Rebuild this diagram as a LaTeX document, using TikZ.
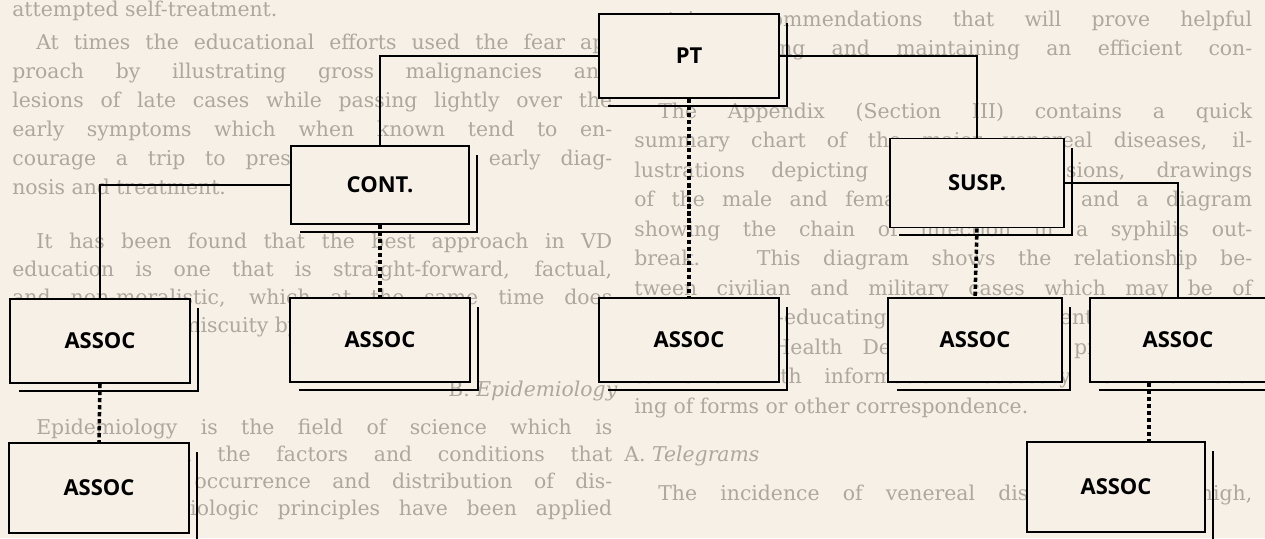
\documentclass[tikz,border=0pt]{standalone}
\usepackage{fontspec}
\setmainfont{DejaVu Serif}
\newfontfamily\labelfont{Open Sans}
\definecolor{paper}{RGB}{246,240,230}
\definecolor{faint}{RGB}{174,167,158}
\tikzset{
  card/.style={draw, line width=1.1pt, fill=paper, inner sep=0pt, minimum width=3.6cm, minimum height=1.68cm, font=\labelfont\bfseries\fontsize{12.5}{14}\selectfont},
  wire/.style={line width=1.1pt},
  dots/.style={line width=2pt, dash pattern=on 2.4pt off 1.6pt},
  page/.style={text=faint, inner sep=0pt, anchor=mid west, font=\fontsize{11.6}{13}\selectfont}
}
\begin{document}
\begin{tikzpicture}[x=0.02cm, y=-0.02cm]
	\useasboundingbox (0,0) rectangle (1265,538);
	\clip (0,0) rectangle (1265,538);
	\fill[paper] (0,0) rectangle (1265,538);
	\node[page] (l1) at (12,12) {attempted self-treatment.};
	\node[page] (l2) at (36,45) {\makebox[11.52cm][s]{At times the educational efforts used the fear ap-}};
	\node[page] (l3) at (12,74) {\makebox[12cm][s]{proach by illustrating gross malignancies and}};
	\node[page] (l4) at (12,103) {\makebox[12cm][s]{lesions of late cases while passing lightly over the}};
	\node[page] (l5) at (12,132) {\makebox[12cm][s]{early symptoms which when known tend to en-}};
	\node[page] (l6) at (12,161) {\makebox[12cm][s]{courage a trip to present himself for early diag-}};
	\node[page] (l7) at (12,190) {nosis and treatment.};
	\node[page] (l8) at (36,244) {\makebox[11.52cm][s]{It has been found that the best approach in VD}};
	\node[page] (l9) at (12,272) {\makebox[12cm][s]{education is one that is straight-forward, factual,}};
	\node[page] (l10) at (12,300) {\makebox[12cm][s]{and non-moralistic, which at the same time does}};
	\node[page] (l11) at (12,328) {not condone promiscuity by implication.};
	\node[page] (l12) at (448,392) {B. \textit{Epidemiology}};
	\node[page] (l13) at (36,430) {\makebox[11.52cm][s]{Epidemiology is the field of science which is}};
	\node[page] (l14) at (12,457) {\makebox[12cm][s]{concerned with the factors and conditions that}};
	\node[page] (l15) at (12,484) {\makebox[12cm][s]{determine the occurrence and distribution of dis-}};
	\node[page] (l16) at (12,511) {\makebox[12cm][s]{ease. Epidemiologic principles have been applied}};
	\node[page] (r1) at (634,22) {\makebox[12.36cm][s]{certain recommendations that will prove helpful}};
	\node[page] (r2) at (634,51) {\makebox[12.36cm][s]{in establishing and maintaining an efficient con-}};
	\node[page] (r3) at (634,81) {trol program.};
	\node[page] (r4) at (658,114) {\makebox[11.88cm][s]{The Appendix (Section III) contains a quick}};
	\node[page] (r5) at (634,143) {\makebox[12.36cm][s]{summary chart of the major venereal diseases, il-}};
	\node[page] (r6) at (634,173) {\makebox[12.36cm][s]{lustrations depicting typical VD lesions, drawings}};
	\node[page] (r7) at (634,202) {\makebox[12.36cm][s]{of the male and female sex organs, and a diagram}};
	\node[page] (r8) at (634,232) {\makebox[12.36cm][s]{showing the chain of infection in a syphilis out-}};
	\node[page] (r9) at (634,261) {\makebox[12.36cm][s]{break. This diagram shows the relationship be-}};
	\node[page] (r10) at (634,291) {\makebox[12.36cm][s]{tween civilian and military cases which may be of}};
	\node[page] (r11) at (634,320) {\makebox[12.36cm][s]{value in re-educating the VD patient. Addition-}};
	\node[page] (r12) at (634,350) {\makebox[12.36cm][s]{ally, State Health Departments will provide the in-}};
	\node[page] (r13) at (634,379) {\makebox[12.36cm][s]{terviewer with information necessary for the rout-}};
	\node[page] (r14) at (634,409) {ing of forms or other correspondence.};
	\node[page] (r15) at (624,457) {A. \textit{Telegrams}};
	\node[page] (r16) at (658,496) {\makebox[11.88cm][s]{The incidence of venereal disease is still high,}};
	\node[card] (pt) at (689,56) {PT};
	\node[card, minimum width=3.56cm, minimum height=1.56cm] (cont) at (380,185) {CONT.};
	\node[card, minimum width=3.48cm, minimum height=1.78cm] (susp) at (977,183) {SUSP.};
	\node[card] (a1) at (100,341) {ASSOC};
	\node[card] (a2) at (380,340) {ASSOC};
	\node[card] (a3) at (689,340) {ASSOC};
	\node[card, minimum width=3.48cm] (a4) at (975,340) {ASSOC};
	\node[card, minimum width=3.52cm] (a5) at (1178,340) {ASSOC};
	\node[card, minimum height=1.8cm] (a6) at (99,488) {ASSOC};
	\node[card, minimum width=3.56cm, minimum height=1.8cm] (a7) at (1116,487) {ASSOC};
	\foreach \n in {pt,cont,susp,a1,a2,a3,a4,a5,a6,a7}
		\draw[wire] ([shift={(10,7)}]\n.south west) -- ([shift={(7,7)}]\n.south east) -- ([shift={(7,10)}]\n.north east);
	\coordinate (d5) at (1149,383);
	\draw[wire] (cont.north) |- (pt.west);
	\draw[wire] (pt.east) -| (susp.north);
	\draw[wire] (cont.west) -| (a1.north);
	\draw[wire] (susp.east) -| (a5.north);
	\draw[dots] (pt.south) -- (a3.north);
	\draw[dots] (cont.south) -- (a2.north);
	\draw[dots] (susp.south) -- (a4.north);
	\draw[dots] (a1.south) -- (a6.north);
	\draw[dots] (d5) -- (d5 |- a7.north);
\end{tikzpicture}
\end{document}
